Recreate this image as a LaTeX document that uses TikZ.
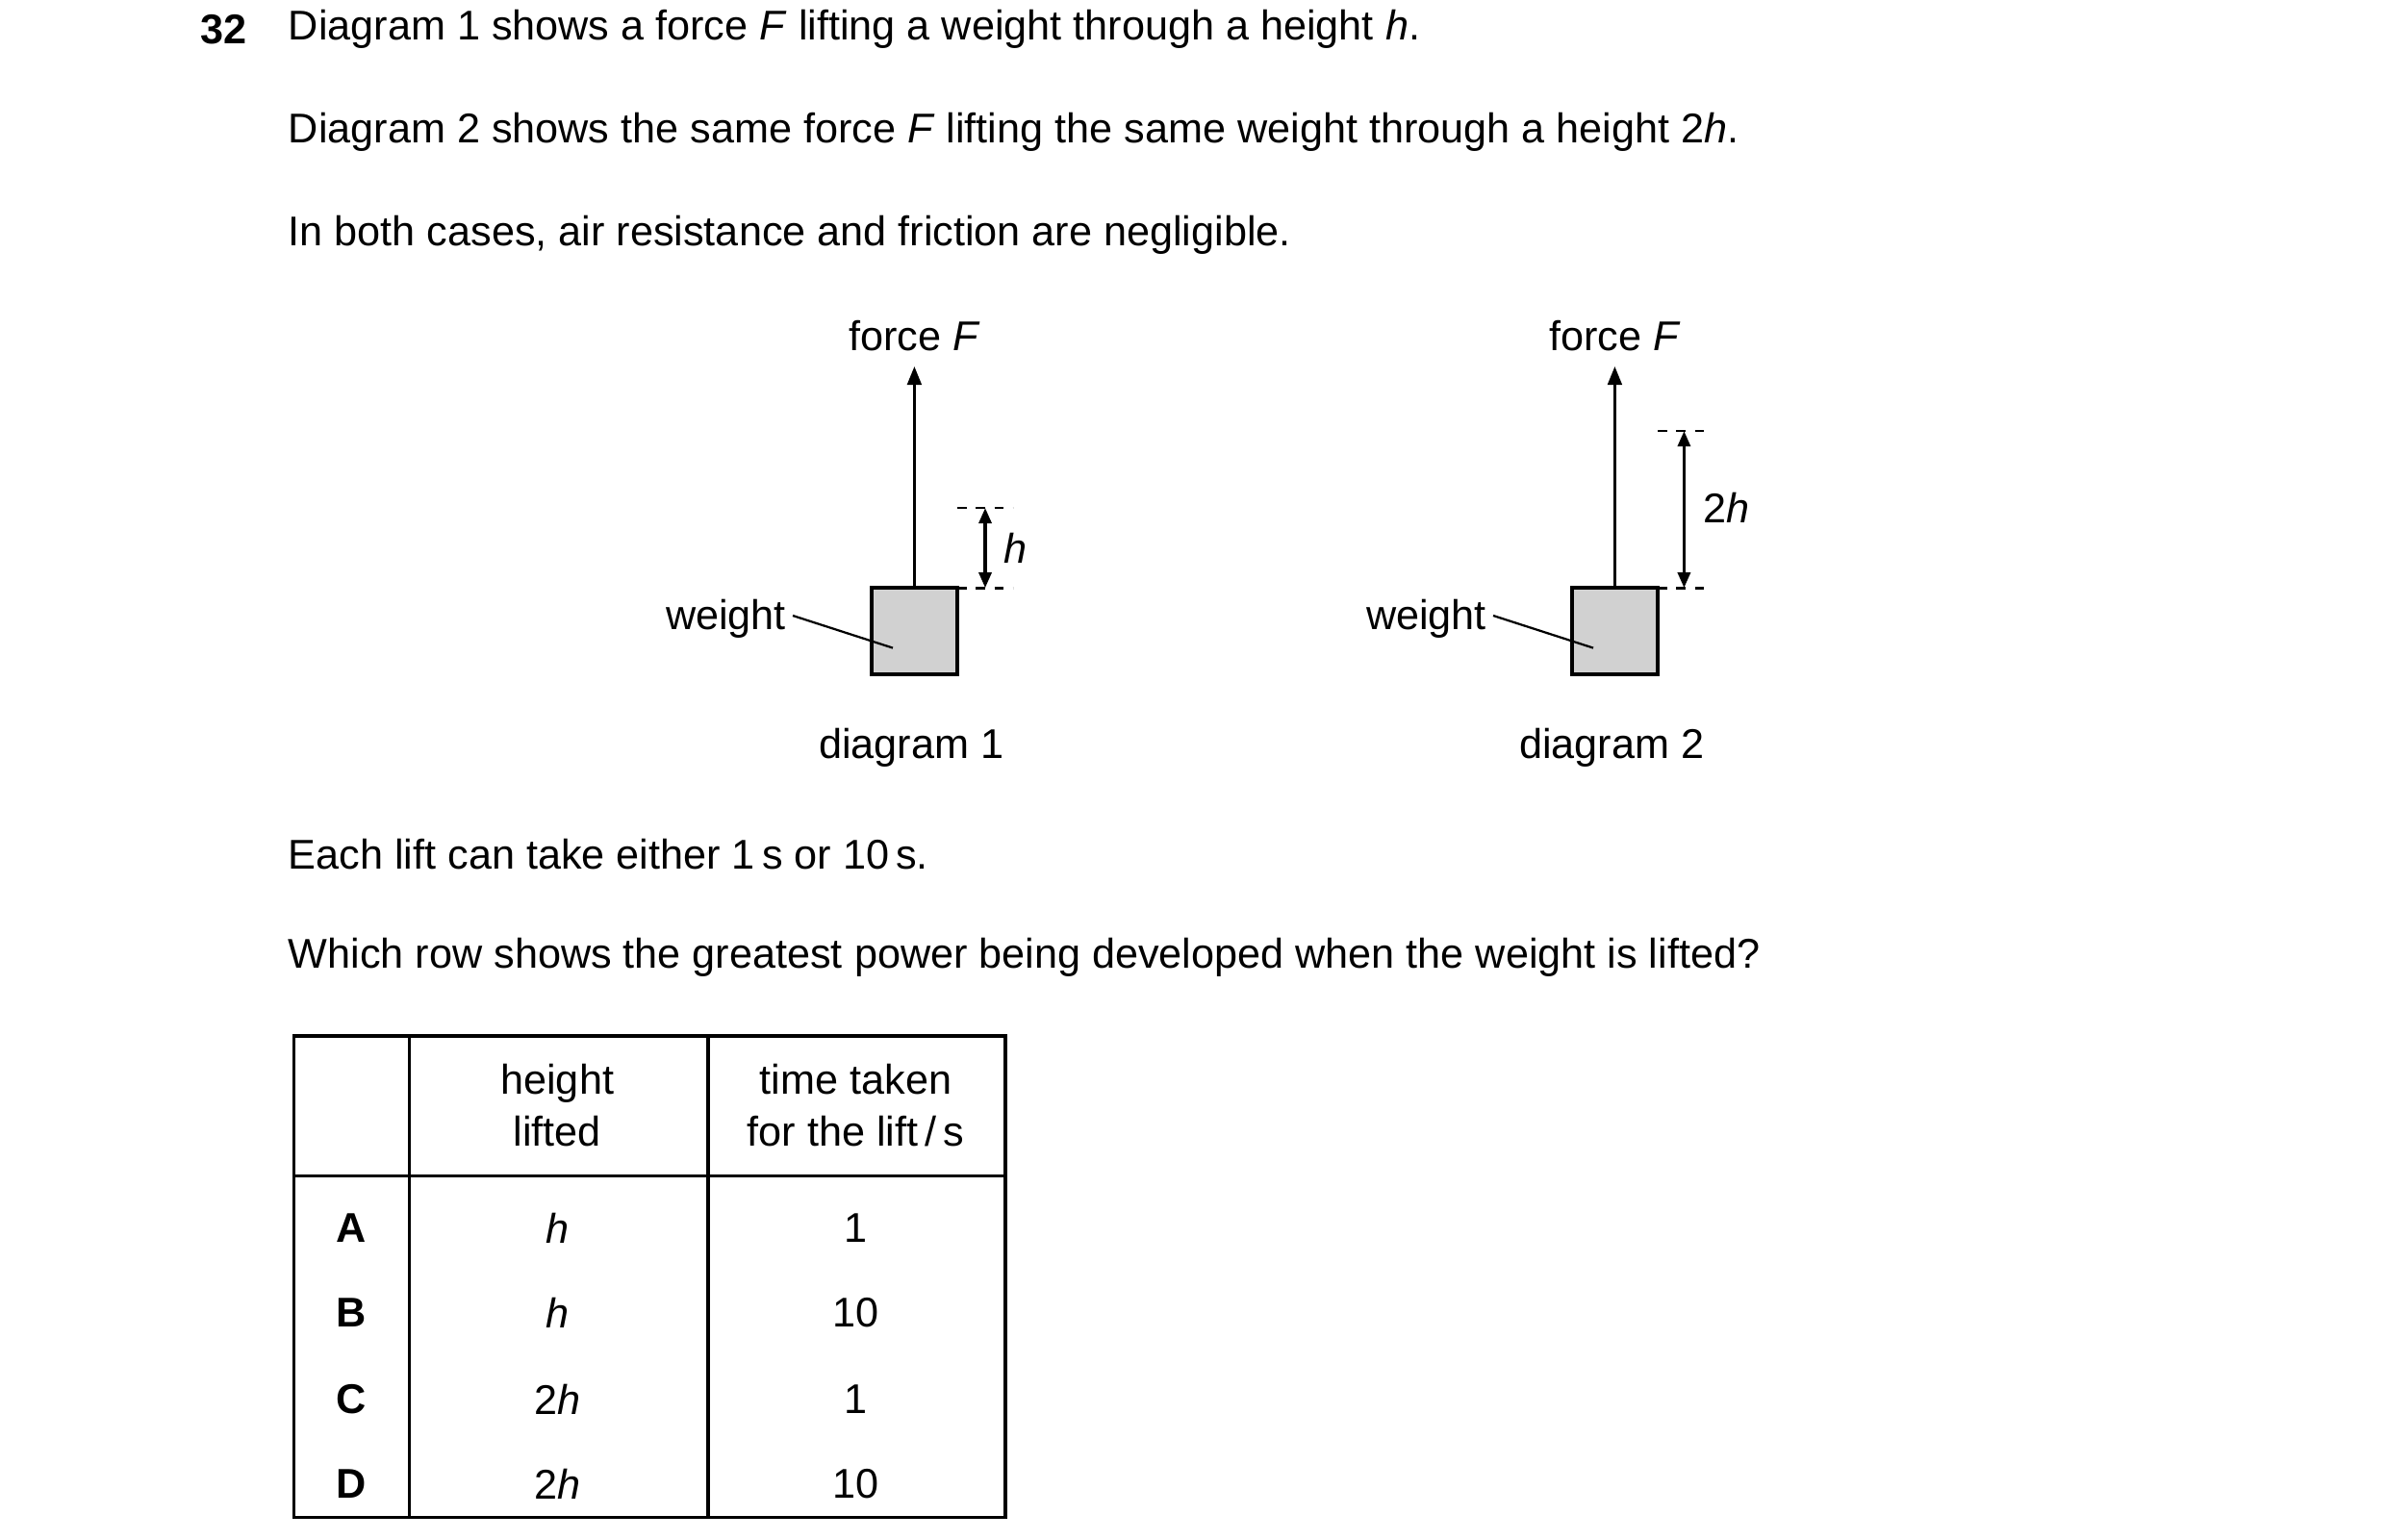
\documentclass[tikz,border=0pt]{standalone}
\usepackage{fontspec}
\setmainfont{Liberation Sans}
\usetikzlibrary{arrows.meta}
\begin{document}
\begin{tikzpicture}[x=0.5pt,y=-0.5pt,
  txt/.style={font=\fontsize{13.5pt}{17pt}\selectfont,inner sep=0pt},
  ln/.style={line width=1.1pt},
  arr/.style={ln,-{Triangle[length=6pt,width=4.5pt]}},
  darr/.style={ln,{Triangle[length=5pt,width=4pt]}-{Triangle[length=5pt,width=4pt]}},
  dsh/.style={line width=0.9pt,dash pattern=on 3pt off 3pt},
  box/.style={draw,line width=1.2pt,fill=black!18}]
\useasboundingbox (0,0) rectangle (1550,1000);
\node[txt,anchor=west,font=\fontsize{13.5pt}{17pt}\selectfont\bfseries] (q) at (130,19) {32};
\node[txt,anchor=west] (l1) at (187,19) {Diagram 1 shows a force \textit{F} lifting a weight through a height \textit{h}.};
\node[txt,anchor=west] (l2) at (187,86) {Diagram 2 shows the same force \textit{F} lifting the same weight through a height 2\textit{h}.};
\node[txt,anchor=west] (l3) at (187,153) {In both cases, air resistance and friction are negligible.};
% diagram 1
\node[txt] (f1) at (594,218) {force \textit{F}};
\node[box,minimum width=28pt,minimum height=28pt,inner sep=0pt] (b1) at (594,410) {};
\coordinate (t1) at (594,238);
\draw[arr] (b1.north) -- (t1);
\node[txt,anchor=east] (w1) at (511,402) {weight};
\coordinate (p1) at (580,421);
\draw[line width=0.7pt] (w1.east) ++(2pt,1pt) -- (p1);
\coordinate (d1a) at (622,330); \coordinate (d1b) at (658,330);
\coordinate (d1c) at (622,382); \coordinate (d1d) at (658,382);
\draw[dsh] (d1a) -- (d1b); \draw[dsh] (d1c) -- (d1d);
\coordinate (h1a) at (640,330); \coordinate (h1b) at (640,382);
\draw[darr] (h1a) -- (h1b);
\node[txt,anchor=west] (h1) at (652,356) {\textit{h}};
\node[txt] (dg1) at (592,486) {diagram 1};
% diagram 2
\node[txt] (f2) at (1049,218) {force \textit{F}};
\node[box,minimum width=28pt,minimum height=28pt,inner sep=0pt] (b2) at (1049,410) {};
\coordinate (t2) at (1049,238);
\draw[arr] (b2.north) -- (t2);
\node[txt,anchor=east] (w2) at (966,402) {weight};
\coordinate (p2) at (1035,421);
\draw[line width=0.7pt] (w2.east) ++(2pt,1pt) -- (p2);
\coordinate (d2a) at (1077,280); \coordinate (d2b) at (1113,280);
\coordinate (d2c) at (1077,382); \coordinate (d2d) at (1113,382);
\draw[dsh] (d2a) -- (d2b); \draw[dsh] (d2c) -- (d2d);
\coordinate (h2a) at (1094,280); \coordinate (h2b) at (1094,382);
\draw[darr] (h2a) -- (h2b);
\node[txt,anchor=west] (h2) at (1106,330) {2\textit{h}};
\node[txt] (dg2) at (1047,486) {diagram 2};
\node[txt,anchor=west] (l4) at (187,555) {Each lift can take either 1\,s or 10\,s.};
\node[txt,anchor=west] (l5) at (187,622) {Which row shows the greatest power being developed when the weight is lifted?};
% table
\draw[line width=1.1pt] (191,673) rectangle (653,986);
\draw[line width=1.1pt] (266,673) -- (266,986) (460,673) -- (460,986) (191,764) -- (653,764);
\node[txt,align=center] (c1) at (362,718) {height\\lifted};
\node[txt,align=center] (c2) at (556,718) {time taken\\for the lift\,/\,s};
\foreach \L/\H/\T/\y in {A/\textit{h}/1/798,B/\textit{h}/10/853,C/2\textit{h}/1/909,D/2\textit{h}/10/964}{
  \node[txt,font=\fontsize{13.5pt}{17pt}\selectfont\bfseries] at (228,\y) {\L};
  \node[txt] at (362,\y) {\H};
  \node[txt] at (556,\y) {\T};
}
\end{tikzpicture}
\end{document}
